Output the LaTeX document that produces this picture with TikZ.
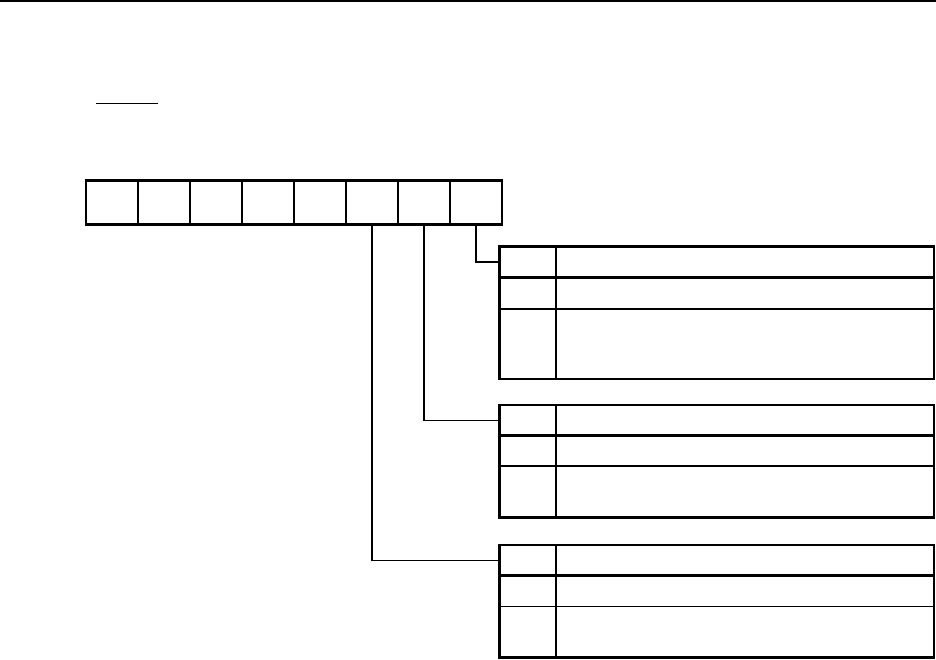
\documentclass[tikz,border=0pt]{standalone}
\begin{document}
\begin{tikzpicture}[x=1pt,y=-1pt,
  thinline/.style={line width=1.2pt},
  thickline/.style={line width=2.3pt},
  bitcell/.style={draw, line width=1.2pt, minimum width=52pt, minimum height=44pt, inner sep=0pt, outer sep=0pt, anchor=north west},
  keycell/.style={draw, line width=1.2pt, minimum width=56.5pt, inner sep=0pt, outer sep=0pt, anchor=north west},
  desccell/.style={draw, line width=1.2pt, minimum width=378pt, inner sep=0pt, outer sep=0pt, anchor=north west}]
\useasboundingbox (0,0) rectangle (936,659);
% top rule and short underline
\draw[line width=1.5pt] (0,1) -- (936,1);
\draw[thinline] (96,103.5) -- (158,103.5);
% register
\foreach \i in {0,...,7}{
  \node[bitcell] (c\i) at ({86+52*\i},180.5) {};
}
\draw[thickline] (c0.north west) rectangle (c7.south east);
% tables: name, top, h1, h2, h3
\foreach \t/\top/\ha/\hb/\hc in {1/246.5/31/31.5/70, 2/405/30.5/30.5/51.5, 3/545/30.5/31/51}{
  \node[keycell, minimum height=\ha pt] (t\t k1) at (499.5,\top) {};
  \node[desccell, minimum height=\ha pt] (t\t d1) at (t\t k1.north east) {};
  \node[keycell, minimum height=\hb pt] (t\t k2) at (t\t k1.south west) {};
  \node[desccell, minimum height=\hb pt] (t\t d2) at (t\t k2.north east) {};
  \node[keycell, minimum height=\hc pt] (t\t k3) at (t\t k2.south west) {};
  \node[desccell, minimum height=\hc pt] (t\t d3) at (t\t k3.north east) {};
  \draw[thickline] (t\t k1.north west) rectangle (t\t d3.south east);
  \draw[thickline] (t\t k1.north east) -- (t\t k3.south east);
  \draw[thickline] (t\t k1.south west) -- (t\t d1.south east);
}
% connectors
\draw[thinline] (c7.south) |- (t1k1.west);
\draw[thinline] (c6.south) |- (t2k1.west);
\draw[thinline] (c5.south) |- (t3k1.west);
\end{tikzpicture}
\end{document}
